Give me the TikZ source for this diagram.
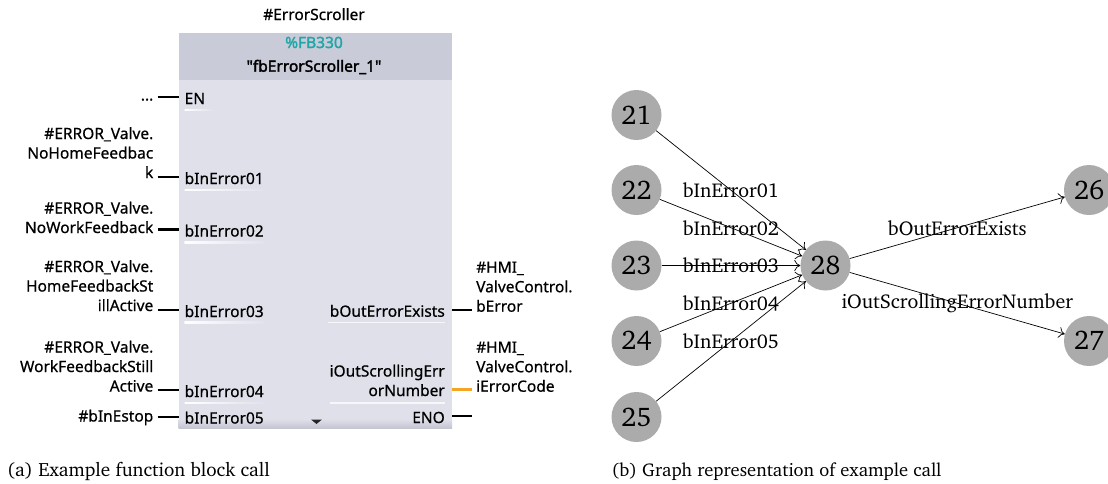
\documentclass[tikz,border=0pt]{standalone}
\usepackage[T1]{fontenc}
\usepackage{fontspec}
\usetikzlibrary{arrows.meta}
\newfontfamily\plcfont[FakeBold=0.6]{Noto Sans}
\newfontfamily\plcboldfont[FakeBold=2.2]{Noto Sans}
\newcommand\chartertext{\fontencoding{T1}\fontfamily{bch}\selectfont}
\definecolor{hdrcol}{HTML}{C9CBD9}
\definecolor{bodycol}{HTML}{DFE0EA}
\definecolor{shadecol}{HTML}{C4C5D1}
\definecolor{fbteal}{HTML}{22A7A8}
\definecolor{wireor}{HTML}{F5A524}
\definecolor{vtxgray}{HTML}{ABABAB}
\begin{document}
\begin{tikzpicture}[x=1pt,y=-1pt,
  plc/.style={font=\plcfont\fontsize{15.5}{19.5}\selectfont, inner sep=0pt},
  plcb/.style={font=\plcboldfont\fontsize{15.5}{19.5}\selectfont, inner sep=0pt},
  pinin/.style={plc, anchor=base west},
  pinout/.style={plc, align=right, anchor=base east},
  extin/.style={plc, align=right, anchor=base east},
  extout/.style={plc, align=left, anchor=base west},
  wire/.style={line width=2.4pt},
  uline/.style={left color=white, right color=bodycol},
  vtx/.style={circle, fill=vtxgray, minimum size=50pt, inner sep=0pt,
    font=\chartertext\fontsize{27}{27}\selectfont},
  elabel/.style={font=\chartertext\fontsize{20}{21}\selectfont, inner sep=0pt},
  arc/.style={line width=0.7pt, -{To[length=6pt,width=11pt]}},
  captext/.style={font=\chartertext\fontsize{19.2}{20}\selectfont, inner sep=0pt, anchor=base west}
]
\useasboundingbox (0,0) rectangle (1108,483);

% ---------------- function block ----------------
\fill[bodycol] (178.5,80) rectangle (452,428);
\fill[hdrcol] (178.5,33) rectangle (452,80);
\shade[top color=bodycol, bottom color=shadecol] (178.5,419) rectangle (452,428);

\node[plc, anchor=base] (inst) at (314,20) {\#ErrorScroller};
\node[plcb, anchor=base, text=fbteal] (fbnum) at (314,48) {\%FB330};
\node[plcb, anchor=base] (fbname) at (314,71.7) {"fbErrorScroller\_1"};

% input pins
\node[pinin] (en)  at (184.5,104)   {EN};
\node[pinin] (in1) at (184.5,184)   {bInError01};
\node[pinin] (in2) at (184.5,236.5) {bInError02};
\node[pinin] (in3) at (184.5,317)   {bInError03};
\node[pinin] (in4) at (184.5,397)   {bInError04};
\node[pinin] (in5) at (184.5,423.5) {bInError05};

% output pins
\node[pinout] (out1) at (445,316.7) {bOutErrorExists};
\node[pinout] (out2) at (445,396)   {iOutScrollingErr\\orNumber};
\node[pinout] (eno)  at (445,423)   {ENO};

% faded underlines below the pin names
\shade[uline] (184.5,109.3) rectangle (214,110.8);
\shade[uline] (184.5,189.3) rectangle (268,190.8);
\shade[uline] (184.5,241.8) rectangle (268,243.3);
\shade[uline] (184.5,321.8) rectangle (268,323.3);
\shade[uline] (184.5,402.3) rectangle (268,403.8);
\fill[white!75!bodycol] (328,321.8) rectangle (445,323.3);
\fill[white!75!bodycol] (330,402.3) rectangle (445,403.8);

% scroll marker
\fill[black!85] (311,419.5) -- (322,419.5) -- (316.5,424) -- cycle;

% actual parameters (anchored at the baseline of their last line)
\node[extin] (a0) at (153.5,100.5) {...};
\node[extin] (a1) at (153.5,178)   {\#ERROR\_Valve.\\NoHomeFeedbac\\k};
\node[extin] (a2) at (153.5,233)   {\#ERROR\_Valve.\\NoWorkFeedback};
\node[extin] (a3) at (153.5,311)   {\#ERROR\_Valve.\\HomeFeedbackSt\\illActive};
\node[extin] (a4) at (153.5,391.5) {\#ERROR\_Valve.\\WorkFeedbackStill\\Active};
\node[extin] (a5) at (153.5,421.5) {\#bInEstop};
\node[extout] (b1) at (476,311.7) {\#HMI\_\\ValveControl.\\bError};
\node[extout] (b2) at (476,391.7) {\#HMI\_\\ValveControl.\\iErrorCode};

% wire stubs
\coordinate (wl0) at (157.7,97);    \coordinate (wr0) at (178.5,97);
\coordinate (wl1) at (157.7,176.7); \coordinate (wr1) at (178.5,176.7);
\coordinate (wl2) at (157.7,229.3); \coordinate (wr2) at (178.5,229.3);
\coordinate (wl3) at (157.7,310);   \coordinate (wr3) at (178.5,310);
\coordinate (wl4) at (157.7,390);   \coordinate (wr4) at (178.5,390);
\coordinate (wl5) at (157.7,416.7); \coordinate (wr5) at (178.5,416.7);
\coordinate (ol1) at (452,310);     \coordinate (or1) at (471.7,310);
\coordinate (ol2) at (452,389.3);   \coordinate (or2) at (471.7,389.3);
\coordinate (ol3) at (452,415.7);   \coordinate (or3) at (471.7,415.7);
\foreach \i in {0,...,5} \draw[wire] (wl\i) -- (wr\i);
\draw[wire] (ol1) -- (or1);
\draw[wire, wireor] (ol2) -- (or2);
\draw[wire] (ol3) -- (or3);

% ---------------- graph ----------------
\node[vtx] (v21) at (636.5,115)   {21};
\node[vtx] (v22) at (636.5,190)   {22};
\node[vtx] (v23) at (636.5,265.5) {23};
\node[vtx] (v24) at (636.5,341)   {24};
\node[vtx] (v25) at (636.5,417)   {25};
\node[vtx] (v28) at (825.5,265.5) {28};
\node[vtx] (v26) at (1089,190)    {26};
\node[vtx] (v27) at (1089,341)    {27};

\draw[arc] (v21) -- node[elabel] (l1) {bInError01} (v28);
\draw[arc] (v22) -- node[elabel] (l2) {bInError02} (v28);
\draw[arc] (v23) -- node[elabel] (l3) {bInError03} (v28);
\draw[arc] (v24) -- node[elabel] (l4) {bInError04} (v28);
\draw[arc] (v25) -- node[elabel] (l5) {bInError05} (v28);
\draw[arc] (v28) -- node[elabel] (l6) {bOutErrorExists} (v26);
\draw[arc] (v28) -- node[elabel] (l7) {iOutScrollingErrorNumber} (v27);

% ---------------- captions ----------------
\node[captext] (capa) at (7,476.5)   {(a) Example function block call};
\node[captext, font=\chartertext\fontsize{18.5}{20}\selectfont] (capb) at (611.5,476.5) {(b) Graph representation of example call};
\end{tikzpicture}
\end{document}
